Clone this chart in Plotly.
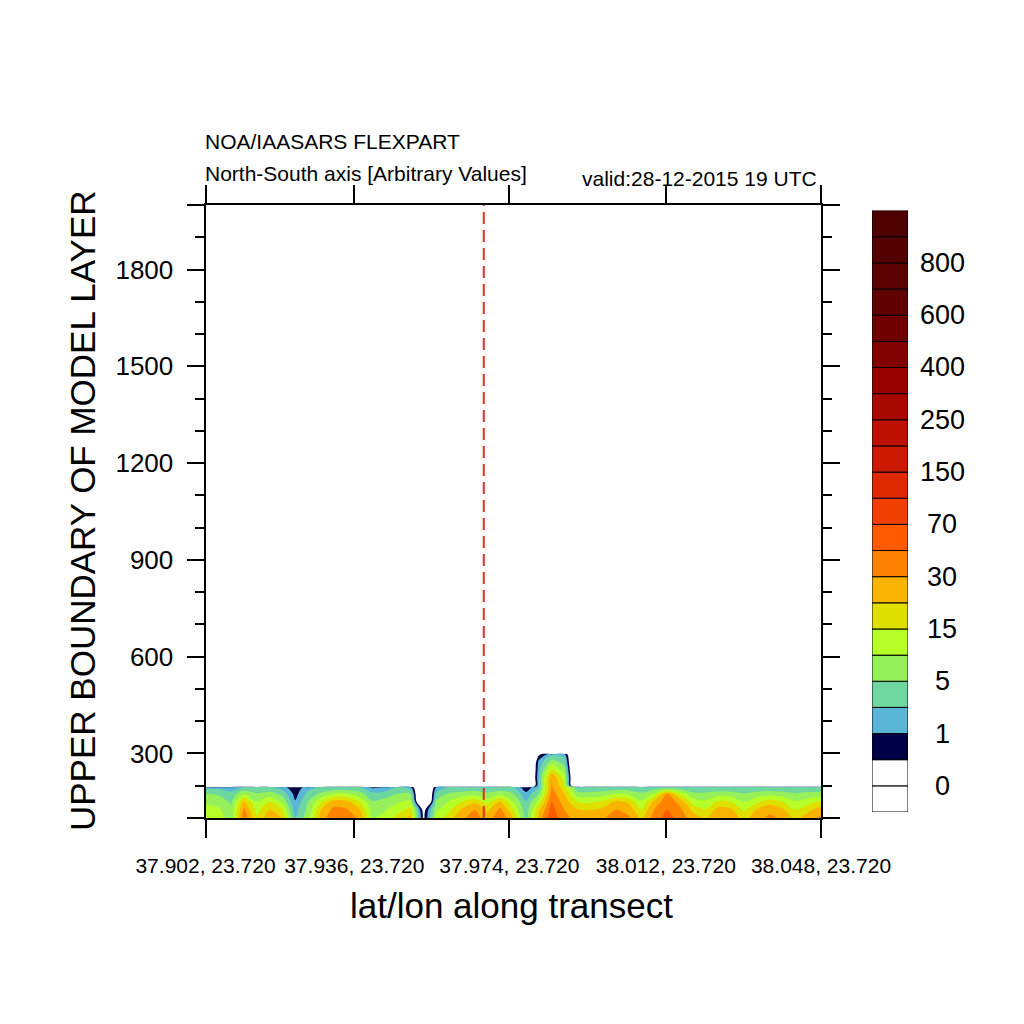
import numpy as np
import plotly.graph_objects as go

# contour levels of the colour bar, and one colour per band (bottom -> top)
levels = [0, 0.5, 1, 2, 5, 10, 15, 20, 30, 50, 70, 100, 150, 200, 250, 300,
          400, 500, 600, 700, 800, 900]
band_colors = ["#FFFFFF", "#FFFFFF", "#000046", "#5AB6D6", "#6ED7A0", "#96F05A",
               "#B6FF28", "#E0E000", "#F8B400", "#FF8200", "#FF5A00", "#F04000",
               "#DE2A00", "#CC1A00", "#BC1000", "#A80800", "#980000", "#800000",
               "#700000", "#600000", "#5A0000", "#540000", "#4E0000"]

# transect ticks (x = point index along the transect)
tick_pos = [0, 11.6, 23.7, 35.9, 48]
tick_text = ["37.902, 23.720", "37.936, 23.720", "37.974, 23.720",
             "38.012, 23.720", "38.048, 23.720"]
marker_pos = 21.7  # red dashed line

# upper boundary of model layers (m)
heights = [100, 125, 150, 175, 195, 200, 225, 250, 275, 297, 302]

E = -1  # no value
h100 = [14, 13, 7, 45, 16, 26, 20, 1.9, 8, 25, 45, 42, 28, 10, 12, 17, 23, 0.3, 12, 18,
        28, 40, 24, 48, 20, 3.5, 25, 65, 35, 27, 25, 29, 38, 33, 19, 38, 58, 42, 25, 20,
        30, 28, 18, 26, 35, 28, 19, 24, 35]
h125 = [12, 11, 6, 35, 13, 21, 15, 1.6, 6.5, 20, 36, 33, 22, 8, 9.5, 13, 17, 0.2, 9, 14,
        22, 30, 19, 36, 15, 3, 19, 58, 30, 21, 20, 23, 31, 27, 15, 31, 50, 35, 19, 15.5,
        24, 22, 14, 21, 27, 22, 15, 19, 26]
h150 = [9, 8, 4.5, 22, 10, 15, 9, 1.1, 5, 14, 25, 23, 15, 5.5, 7, 9.5, 11, E, 6, 10.5,
        15, 19, 13, 22, 10, 2.2, 12, 50, 25, 15, 14, 16, 22, 19, 11, 23, 42, 27, 13, 11,
        16, 15, 10, 14, 18, 15, 10.5, 13, 16]
h175 = [5, 4.5, 3, 9, 5.5, 7, 4, 0.8, 3, 6, 10, 10, 7, 3, 3.5, 5, 5, E, 3, 5.5,
        7, 8, 6, 8.5, 5, 1.3, 5, 40, 20, 7, 6.5, 7.5, 10, 9, 6, 11, 30, 14, 6.5, 6,
        7.5, 7, 5.5, 7, 8, 7, 5.5, 6.5, 7]
h195 = [1.8, 1.7, 1.4, 2.3, 2.1, 2.2, 1.4, 0.6, 1.6, 2.2, 2.6, 2.6, 2.4, 0.9, 1.1, 2.1, 1.4, E, 1.1, 2.3,
        2.5, 2.6, 2.4, 2.6, 2, 0.6, 2, 33, 17, 2.5, 2.5, 2.6, 2.7, 2.6, 2.2, 2.7, 3, 2.7, 2.4, 2.3,
        2.6, 2.6, 2.3, 2.5, 2.6, 2.5, 2.3, 2.5, 2.6]
h200 = [E, E, E, E, E, E, E, E, E, E, E, E, E, E, E, E, E, E, E, E,
        E, E, E, E, E, E, 2.2, 32, 16, E, E, E, E, E, E, E, E, E, E, E,
        E, E, E, E, E, E, E, E, E]
h225 = [E, E, E, E, E, E, E, E, E, E, E, E, E, E, E, E, E, E, E, E,
        E, E, E, E, E, E, 2.0, 30, 12, E, E, E, E, E, E, E, E, E, E, E,
        E, E, E, E, E, E, E, E, E]
h250 = [E, E, E, E, E, E, E, E, E, E, E, E, E, E, E, E, E, E, E, E,
        E, E, E, E, E, E, 1.7, 16, 7, E, E, E, E, E, E, E, E, E, E, E,
        E, E, E, E, E, E, E, E, E]
h275 = [E, E, E, E, E, E, E, E, E, E, E, E, E, E, E, E, E, E, E, E,
        E, E, E, E, E, E, 1.3, 7, 3.5, E, E, E, E, E, E, E, E, E, E, E,
        E, E, E, E, E, E, E, E, E]
h297 = [E, E, E, E, E, E, E, E, E, E, E, E, E, E, E, E, E, E, E, E,
        E, E, E, E, E, E, 0.4, 1.8, 1.5, E, E, E, E, E, E, E, E, E, E, E,
        E, E, E, E, E, E, E, E, E]
h302 = [E] * 49

z_raw = np.array([h100, h125, h150, h175, h195, h200, h225, h250, h275, h297, h302], dtype=float)
# map the uneven levels onto 0,1,2,... so plotly can use evenly spaced contours;
# empty cells go well below the first level so the edge bands stay thin
z_idx = np.interp(z_raw, levels, np.arange(len(levels)), left=-4)
x_idx = np.arange(z_raw.shape[1])

font = "Liberation Sans, Arial, sans-serif"
ncol = len(band_colors)
cscale = [[i / (ncol - 1), c] for i, c in enumerate(band_colors)]

OFF = 8  # page body margin


def px_x(px):
    return (px - OFF) / 1024


def px_y(py):
    return 1 - (py - OFF) / 1024


fig = go.Figure()
fig.add_trace(go.Contour(
    x=x_idx, y=heights, z=z_idx,
    autocontour=False,
    contours=dict(start=0, end=len(levels) - 1, size=1, coloring="fill", showlines=False),
    colorscale=cscale, line=dict(width=0), showscale=False, hoverinfo="skip",
))

# label bar built from the band colours
fig.add_trace(go.Bar(
    x=np.zeros(ncol), y=np.ones(ncol), base=np.arange(ncol), width=1,
    marker=dict(color=band_colors, line=dict(color="black", width=1)),
    xaxis="x2", yaxis="y2", hoverinfo="skip",
))

major_y = [100, 300, 600, 900, 1200, 1500, 1800, 2000]
major_y_text = ["", "300", "600", "900", "1200", "1500", "1800", ""]
minor_y = [v for v in range(100, 2001, 100) if v not in major_y]

axis_common = dict(showline=True, linewidth=2, linecolor="black", mirror="ticks",
                   ticks="outside", tickwidth=2, tickcolor="black",
                   showgrid=False, zeroline=False, automargin=False)

fig.update_layout(
    width=1024, height=1024, margin=dict(l=0, r=0, t=0, b=0, autoexpand=False),
    paper_bgcolor="white", plot_bgcolor="white", showlegend=False,
    xaxis=dict(domain=[px_x(205.5), px_x(821)], range=[0, 48],
               tickmode="array", tickvals=tick_pos, ticktext=tick_text, ticklen=18,
               tickangle=0, tickfont=dict(family=font, size=21, color="black"),
               ticklabelstandoff=10, **axis_common),
    yaxis=dict(domain=[px_y(818), px_y(205)], range=[100, 2000],
               tickmode="array", tickvals=major_y, ticktext=major_y_text, ticklen=17,
               minor=dict(tickvals=minor_y, ticklen=9, ticks="outside",
                          tickwidth=1.5, tickcolor="black"),
               tickfont=dict(family=font, size=26, color="black"),
               ticklabelstandoff=8, **axis_common),
    xaxis2=dict(domain=[px_x(872), px_x(908)], range=[-0.5, 0.5], visible=False,
                anchor="y2"),
    yaxis2=dict(domain=[px_y(812), px_y(210.6)], range=[0, ncol], visible=False,
                anchor="x2"),
)

fig.add_shape(type="line", xref="x", yref="y", x0=marker_pos, x1=marker_pos,
              y0=100, y1=2000, line=dict(color="#E0301A", width=2, dash="12px,6px"))

ann = [
    dict(text="NOA/IAASARS FLEXPART", x=px_x(203), y=px_y(141), xanchor="left", size=21),
    dict(text="North-South axis [Arbitrary Values]", x=px_x(203), y=px_y(173),
         xanchor="left", size=21),
    dict(text="valid:28-12-2015 19 UTC", x=px_x(819), y=px_y(178), xanchor="right", size=21),
    dict(text="lat/lon along transect", x=px_x(511), y=px_y(905), xanchor="center", size=35),
]
for a in ann:
    fig.add_annotation(text=a["text"], x=a["x"], y=a["y"], xref="paper", yref="paper",
                       xanchor=a["xanchor"], yanchor="middle", showarrow=False,
                       font=dict(family=font, size=a["size"], color="black"))

fig.add_annotation(text="UPPER BOUNDARY OF MODEL LAYER", x=px_x(82), y=px_y(511),
                   xref="paper", yref="paper", textangle=-90, showarrow=False,
                   xanchor="center", yanchor="middle",
                   font=dict(family=font, size=35, color="black"))

# colour bar labels sit on every other level boundary
for j, lev in enumerate(levels[::2]):
    fig.add_annotation(text=f"{lev:g}", x=px_x(942), y=2 * j + 1, xref="paper", yref="y2",
                       xanchor="center", yanchor="middle", showarrow=False,
                       font=dict(family=font, size=27, color="black"))

fig.write_html("out.html")
